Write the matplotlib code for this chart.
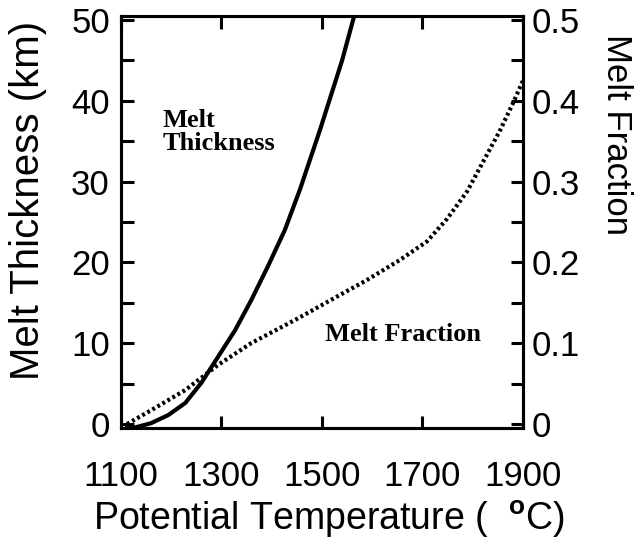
import numpy as np
from matplotlib import pyplot as plt
from matplotlib.ticker import FixedLocator, FixedFormatter

# melt thickness (km), left axis
thick_T = [1112, 1124, 1160, 1194, 1228, 1260, 1293, 1327, 1359, 1393, 1426,
           1456, 1496, 1540, 1564]
thick_km = [-0.5, -0.5, 0.1, 1.1, 2.6, 5.1, 8.3, 11.6, 15.3, 19.6, 24.0,
            29.0, 36.4, 45.0, 50.5]

# melt fraction, right axis
frac_T = [1112, 1160, 1228, 1293, 1359, 1426, 1456, 1522, 1589, 1655, 1709,
          1749, 1789, 1821, 1854, 1880, 1900]
frac = [0.0, 0.017, 0.042, 0.073, 0.10, 0.122, 0.132, 0.155, 0.178, 0.203, 0.226,
        0.254, 0.288, 0.325, 0.363, 0.397, 0.425]

x_ticks = [1100, 1300, 1500, 1700, 1900]
y_ticks = [0, 10, 20, 30, 40, 50]
f_ticks = [0, 0.1, 0.2, 0.3, 0.4, 0.5]
f_labels = ['0', '0.1', '0.2', '0.3', '0.4', '0.5']

plt.rcParams['font.family'] = ['Liberation Sans', 'DejaVu Sans']
plt.rcParams['mathtext.fontset'] = 'custom'
plt.rcParams['mathtext.rm'] = 'Liberation Sans'
plt.rcParams['mathtext.bf'] = 'Liberation Sans:bold'

fig = plt.figure(figsize=(6.38, 5.48), dpi=100)
ax = fig.add_axes([121/638, 120/548, 402/638, 412/548])
ax2 = ax.twinx()

ax.plot(thick_T, thick_km, color='black', lw=3.0, solid_joinstyle='round')
ax2.plot(frac_T, frac, color='black', lw=3.0, linestyle=(0, (0.7, 0.7)))

ax.set_xlim(1100, 1900)
ax.set_ylim(-0.5, 50.5)
ax2.set_ylim(-0.005, 0.505)

for a in (ax, ax2):
    for s in a.spines.values():
        s.set_linewidth(2.2)

ax.xaxis.set_major_locator(FixedLocator(x_ticks))
ax.yaxis.set_major_locator(FixedLocator(y_ticks))
ax.yaxis.set_minor_locator(FixedLocator([5, 15, 25, 35, 45]))
ax2.yaxis.set_major_locator(FixedLocator(f_ticks))
ax2.yaxis.set_major_formatter(FixedFormatter(f_labels))
ax2.yaxis.set_minor_locator(FixedLocator([0.05, 0.15, 0.25, 0.35, 0.45]))

ax.tick_params(axis='x', which='both', direction='in', top=True, length=9, width=2.2,
               labelsize=25, pad=23)
ax.tick_params(axis='y', which='both', direction='in', length=9, width=2.2,
               labelsize=25, pad=8)
ax2.tick_params(axis='y', which='both', direction='in', length=9, width=2.2,
                labelsize=25, pad=6)

fig.text(0.515, 0.052, r'Potential Temperature (  $^{\mathbf{o}}$C)', fontsize=27,
         ha='center', va='center')
fig.text(0.044, 0.635, 'Melt Thickness (km)', fontsize=29, rotation=90,
         ha='center', va='center')
fig.text(0.967, 0.755, 'Melt Fraction', fontsize=25, rotation=-90,
         ha='center', va='center')

serif = dict(family='Liberation Serif', fontweight='bold', fontsize=19)
ax.text(1182, 36.2, 'Melt\nThickness', ha='left', va='center', linespacing=1.0, **serif)
ax.text(1506, 11.1, 'Melt Fraction', ha='left', va='center', **serif)

fig.savefig('out.png', dpi=100)
